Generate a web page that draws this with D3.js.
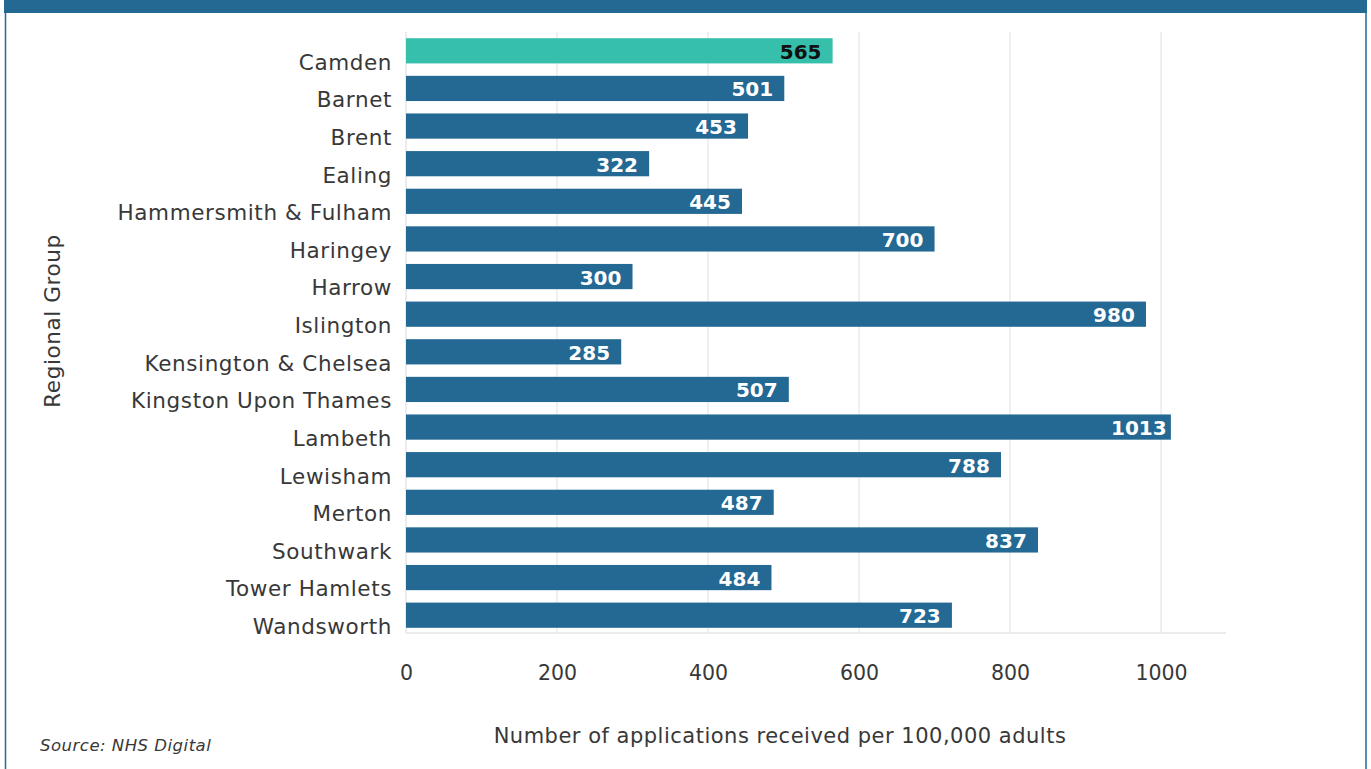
<!DOCTYPE html>
<html><head><meta charset="utf-8">
<script src="https://cdn.jsdelivr.net/npm/d3@7"></script>
<style>html,body{margin:0;padding:0;background:#fff;}svg{display:block;}</style>
</head><body>
<script>
const categories = ["Camden","Barnet","Brent","Ealing","Hammersmith & Fulham","Haringey","Harrow","Islington","Kensington & Chelsea","Kingston Upon Thames","Lambeth","Lewisham","Merton","Southwark","Tower Hamlets","Wandsworth"];
const values = [565,501,453,322,445,700,300,980,285,507,1013,788,487,837,484,723];
const highlight = "Camden";
const xTicks = [0,200,400,600,800,1000];
const xTitle = "Number of applications received per 100,000 adults";
const yTitle = "Regional Group";
const source = "Source: NHS Digital";

const W = 1371, H = 769;
const FONT = "'DejaVu Sans', sans-serif";
const dark = "#236993", teal = "#36bfab";
const txt = "#383838";

const svg = d3.select("body").append("svg").attr("width", W).attr("height", H);

// frame
svg.append("rect").attr("x", 4).attr("y", 0).attr("width", 1363).attr("height", 13).attr("fill", dark);
svg.append("line").attr("x1", 5.5).attr("x2", 5.5).attr("y1", 13).attr("y2", H).attr("stroke", dark).attr("stroke-width", 1.5);
svg.append("line").attr("x1", 1366).attr("x2", 1366).attr("y1", 13).attr("y2", H).attr("stroke", dark).attr("stroke-width", 1.5);

const x = d3.scaleLinear().domain([0, 1086]).range([406, 1226]);
const y = d3.scaleBand().domain(categories).range([32, 634]).paddingInner(0.33).paddingOuter(0.165);

// grid
svg.append("g").selectAll("line").data(xTicks.slice(1)).join("line")
  .attr("x1", d => x(d)).attr("x2", d => x(d)).attr("y1", 32).attr("y2", 633)
  .attr("stroke", "#ebebeb").attr("stroke-width", 1.5);
svg.append("line").attr("x1", 406).attr("x2", 406).attr("y1", 32).attr("y2", 633).attr("stroke", "#e6e6e6").attr("stroke-width", 1.5);
svg.append("line").attr("x1", 406).attr("x2", 1226).attr("y1", 633).attr("y2", 633).attr("stroke", "#e6e6e6").attr("stroke-width", 1.5);

// x axis tick labels
const xAxis = d3.axisBottom(x).tickValues(xTicks).tickSize(0).tickPadding(0).tickFormat(d3.format("d"));
const gx = svg.append("g").attr("transform", "translate(0,666)").call(xAxis);
gx.select(".domain").remove();
gx.selectAll("text").attr("font-family", FONT).attr("font-size", 20.5).attr("fill", txt).attr("dy", "0.7em");

// y axis labels
const yAxis = d3.axisLeft(y).tickSize(0).tickPadding(0);
const gy = svg.append("g").attr("transform", "translate(392,12)").call(yAxis);
gy.select(".domain").remove();
gy.selectAll("text").attr("font-family", FONT).attr("font-size", 21.5).attr("letter-spacing", 0.6).attr("fill", txt);

const data = categories.map((c, i) => ({c, v: values[i]}));
svg.append("g").selectAll("rect").data(data).join("rect")
  .attr("x", x(0)).attr("y", d => y(d.c)).attr("width", d => x(d.v) - x(0)).attr("height", y.bandwidth())
  .attr("fill", d => d.c === highlight ? teal : dark);

svg.append("g").selectAll("text").data(data).join("text")
  .attr("x", d => x(d.v) - 32).attr("y", d => y(d.c) + y.bandwidth() / 2 + 1)
  .attr("text-anchor", "middle").attr("dominant-baseline", "central")
  .attr("font-family", FONT).attr("font-weight", "bold").attr("font-size", 20)
  .attr("fill", d => d.c === highlight ? "#111" : "#fff")
  .text(d => d.v);

svg.append("text").attr("x", 780).attr("y", 743).attr("text-anchor", "middle")
  .attr("font-family", FONT).attr("font-size", 21).attr("letter-spacing", 0.5).attr("fill", txt).text(xTitle);
svg.append("text").attr("transform", "translate(60,321) rotate(-90)").attr("text-anchor", "middle")
  .attr("font-family", FONT).attr("font-size", 21.5).attr("letter-spacing", 0.6).attr("fill", txt).text(yTitle);
svg.append("text").attr("x", 40).attr("y", 751)
  .attr("font-family", FONT).attr("font-style", "italic").attr("font-size", 16.5).attr("letter-spacing", 0.5).attr("fill", txt).text(source);
</script>
</body></html>
